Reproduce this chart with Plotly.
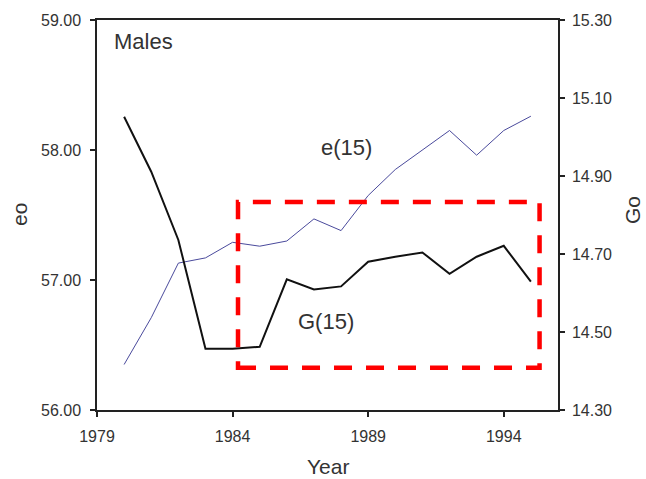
import plotly.graph_objects as go

years = list(range(1980, 1996))
e15 = [56.35, 56.71, 57.13, 57.17, 57.29, 57.26, 57.30, 57.47, 57.38, 57.65,
       57.85, 58.00, 58.15, 57.96, 58.15, 58.26]
g15 = [15.052, 14.911, 14.736, 14.457, 14.457, 14.462, 14.635, 14.609, 14.617,
       14.680, 14.693, 14.704, 14.649, 14.693, 14.721, 14.629]

x_ticks = [1979, 1984, 1989, 1994]
left_ticks = [56, 57, 58, 59]
right_ticks = [14.3, 14.5, 14.7, 14.9, 15.1, 15.3]

FONT = "Liberation Sans, Arial, sans-serif"
TXT = "#333333"
AX = "#222222"
TICKSZ = 16

fig = go.Figure()
fig.add_trace(go.Scatter(x=years, y=e15, mode="lines", name="e(15)",
                         line=dict(color="#4a4a9c", width=1), yaxis="y"))
fig.add_trace(go.Scatter(x=years, y=g15, mode="lines", name="G(15)",
                         line=dict(color="#111111", width=2), yaxis="y2"))

fig.update_layout(
    width=646, height=479,
    margin=dict(l=97, r=88, t=20, b=69, pad=0),
    paper_bgcolor="white", plot_bgcolor="white",
    showlegend=False,
    font=dict(family=FONT, color=TXT, size=TICKSZ),
    xaxis=dict(range=[1979, 1996], tickvals=x_ticks, ticktext=[str(v) for v in x_ticks],
               showgrid=False, zeroline=False, showline=True, linecolor=AX, linewidth=1.5,
               mirror=True, ticks="outside", ticklen=5, tickcolor=AX, tickwidth=1.5,
               ticklabelstandoff=6,
               tickfont=dict(size=TICKSZ, color=TXT)),
    yaxis=dict(range=[56, 59], tickvals=left_ticks,
               ticktext=[f"{v:.2f}" for v in left_ticks],
               showgrid=False, zeroline=False, showline=True, linecolor=AX, linewidth=1.5,
               ticks="outside", ticklen=5, tickcolor=AX, tickwidth=1.5,
               ticklabelstandoff=6,
               tickfont=dict(size=TICKSZ, color=TXT)),
    yaxis2=dict(range=[14.3, 15.3], tickvals=right_ticks,
                ticktext=[f"{v:.2f}" for v in right_ticks],
                overlaying="y", side="right",
                showgrid=False, zeroline=False, showline=True, linecolor=AX, linewidth=1.5,
                ticks="outside", ticklen=5, tickcolor=AX, tickwidth=1.5,
                ticklabelstandoff=4,
                tickfont=dict(size=TICKSZ, color=TXT)),
)

fig.add_shape(type="rect", xref="x", yref="y", x0=1984.2, x1=1995.32, y0=56.325, y1=57.60,
              line=dict(color="#ff0000", width=4.5, dash="18px,14px"), fillcolor="rgba(0,0,0,0)")

ann = [
    dict(text="Males", x=112, y=41, size=22, anchor="left"),
    dict(text="e(15)", x=346, y=147, size=22, anchor="center"),
    dict(text="G(15)", x=326, y=321, size=22, anchor="center"),
    dict(text="Year", x=328, y=466, size=21, anchor="center"),
]
for a in ann:
    fig.add_annotation(text=a["text"], xref="paper", yref="paper",
                       x=(a["x"] - 97) / 461, y=(410 - a["y"]) / 390,
                       xanchor=a["anchor"], yanchor="middle",
                       showarrow=False, font=dict(size=a["size"], color=TXT, family=FONT))
fig.add_annotation(text="eo", xref="paper", yref="paper", x=(19 - 97) / 461, y=(410 - 215) / 390,
                   textangle=-90, showarrow=False, xanchor="center", yanchor="middle",
                   font=dict(size=21, color=TXT, family=FONT))
fig.add_annotation(text="Go", xref="paper", yref="paper", x=(632 - 97) / 461, y=(410 - 210) / 390,
                   textangle=-90, showarrow=False, xanchor="center", yanchor="middle",
                   font=dict(size=21, color=TXT, family=FONT))

fig.write_html("out.html")
